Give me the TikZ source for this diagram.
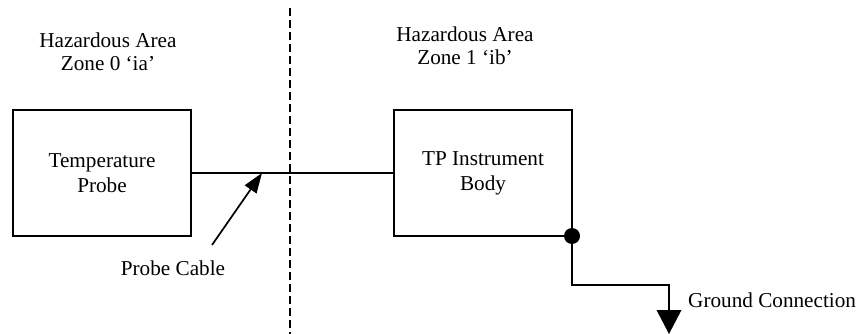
\documentclass[tikz,border=0pt]{standalone}
\usepackage{fontspec}
\setmainfont{Liberation Serif}
\usetikzlibrary{arrows.meta}
\begin{document}
\begin{tikzpicture}[x=1pt,y=-1pt,
  lbl/.style={font=\fontsize{21.2}{23}\selectfont, align=center, inner sep=0pt},
  boxnode/.style={draw, line width=2pt, outer sep=0pt, minimum width=178pt, minimum height=126pt, font=\fontsize{21.2}{25}\selectfont, align=center, inner sep=0pt},
  wire/.style={line width=2pt},
  zoneline/.style={line width=1.5pt, dash pattern=on 8pt off 4pt}]
\useasboundingbox (0,0) rectangle (859,334);
\draw[zoneline] (290,8) -- (290,334);
\node[lbl] (z0) at (108,52) {Hazardous Area\\Zone 0 `ia'};
\node[lbl] (z1) at (465,46) {Hazardous Area\\Zone 1 `ib'};
\node[boxnode] (probe) at (102,173) {Temperature\\Probe};
\node[boxnode] (body) at (483,173) {TP Instrument\\Body};
\draw[wire] (probe.east) -- (body.west);
\coordinate (cablept) at (262,173);
\node[lbl] (cablelbl) at (173,268) {Probe Cable};
\coordinate (arrowtail) at (212,245);
\draw[line width=1.7pt, -{Triangle[length=20pt,width=14pt]}] (arrowtail) -- (cablept);
\fill (body.south east) circle (8pt);
\coordinate (gbend1) at (572,285);
\coordinate (gbend2) at (669,285);
\coordinate (gtop) at (669,310);
\draw[wire] (body.south east) -- (gbend1) -- (gbend2) -- (gtop);
\fill (656.5,310) -- (681.5,310) -- (669,334) -- cycle;
\node[lbl, anchor=west] (glbl) at (688,300) {Ground Connection};
\end{tikzpicture}
\end{document}
